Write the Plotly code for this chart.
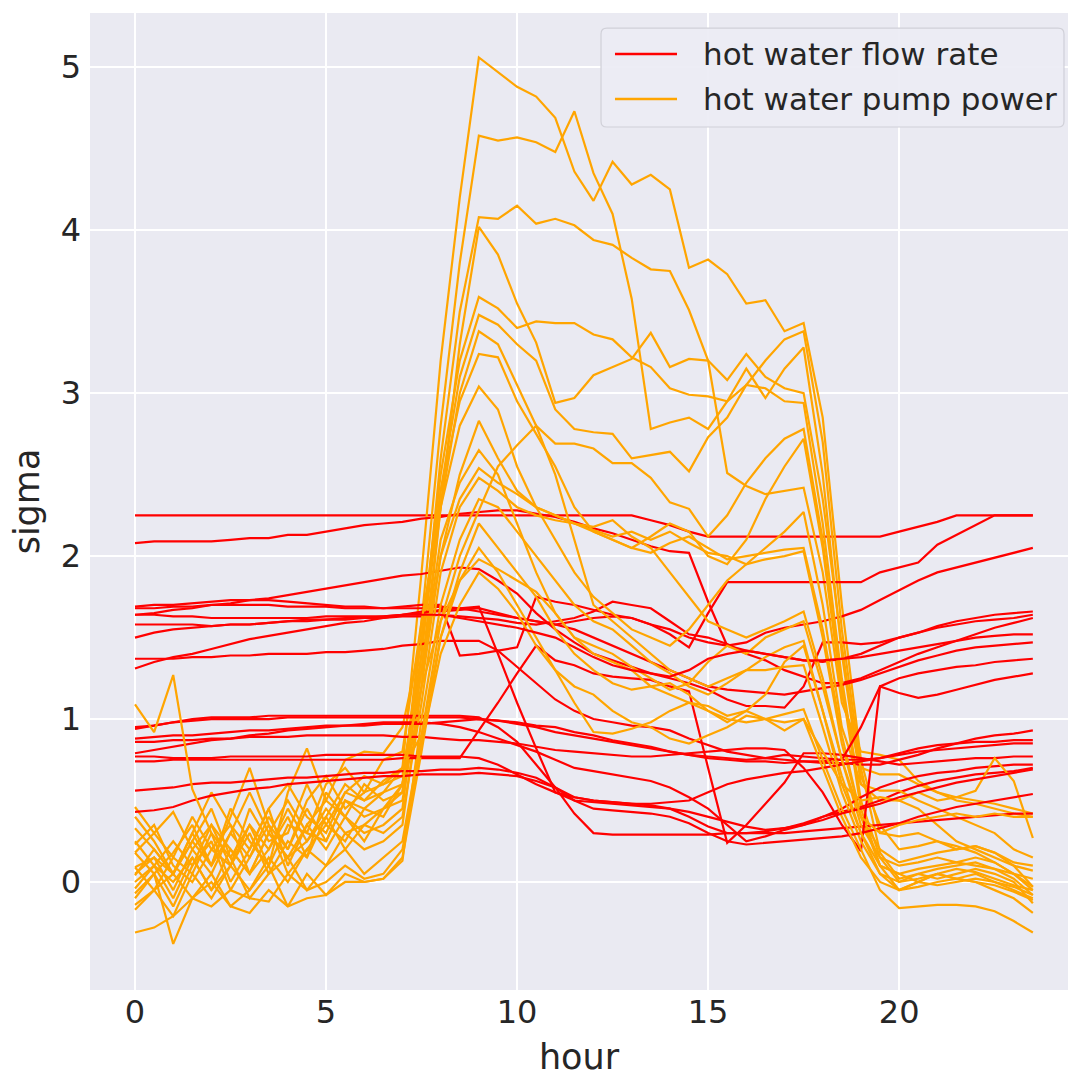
import plotly.graph_objects as go

# half-hourly time axis
hours = [h / 2 for h in range(48)]

# hot water flow rate (sigma), one list per day
flow_rate = [
    [2.25,2.25,2.25,2.25,2.25,2.25,2.25,2.25,2.25,2.25,2.25,2.25,
     2.25,2.25,2.25,2.25,2.25,2.25,2.25,2.25,2.25,2.25,2.25,2.25,
     2.25,2.25,2.25,2.22,2.19,2.15,2.12,2.12,2.12,2.12,2.12,2.12,
     2.12,2.12,2.12,2.12,2.15,2.18,2.21,2.25,2.25,2.25,2.25,2.25],
    [2.08,2.09,2.09,2.09,2.09,2.10,2.11,2.11,2.13,2.13,2.15,2.17,
     2.19,2.20,2.21,2.23,2.24,2.26,2.27,2.28,2.28,2.26,2.24,2.21,
     2.17,2.14,2.10,2.06,2.03,2.02,1.72,1.45,1.47,1.53,1.56,1.58,
     1.60,1.63,1.67,1.73,1.79,1.85,1.90,1.93,1.96,1.99,2.02,2.05],
    [1.64,1.65,1.67,1.68,1.70,1.71,1.73,1.74,1.76,1.78,1.80,1.82,
     1.84,1.86,1.88,1.89,1.91,1.93,1.92,1.85,1.77,1.65,1.55,1.47,
     1.40,1.36,1.32,1.28,1.25,1.22,1.18,1.12,1.08,1.08,1.07,1.20,
     1.47,1.47,1.46,1.47,1.50,1.53,1.57,1.60,1.62,1.64,1.65,1.66],
    [1.68,1.68,1.69,1.69,1.70,1.70,1.70,1.70,1.69,1.69,1.69,1.68,
     1.68,1.68,1.69,1.70,1.70,1.39,1.40,1.42,1.44,1.75,1.72,1.70,
     1.67,1.64,1.62,1.58,1.55,1.50,1.47,1.45,1.42,1.40,1.38,1.36,
     1.35,1.37,1.40,1.45,1.50,1.53,1.56,1.58,1.60,1.61,1.62,1.64],
    [1.69,1.70,1.70,1.71,1.72,1.73,1.73,1.73,1.72,1.71,1.70,1.69,
     1.69,1.68,1.68,1.68,1.69,1.68,1.66,1.64,1.62,1.60,1.58,1.60,
     1.62,1.63,1.62,1.58,1.52,1.44,1.65,1.84,1.84,1.84,1.84,1.84,
     1.84,1.84,1.84,1.90,1.93,1.96,2.07,2.13,2.19,2.25,2.25,2.25],
    [1.58,1.58,1.58,1.58,1.57,1.58,1.58,1.59,1.60,1.60,1.61,1.61,
     1.62,1.62,1.63,1.63,1.64,1.63,1.62,1.61,1.59,1.58,1.60,1.62,
     1.66,1.72,1.70,1.68,1.60,1.52,1.50,1.46,1.40,1.36,1.30,1.26,
     1.22,1.22,1.25,1.30,1.35,1.40,1.44,1.48,1.52,1.56,1.59,1.62],
    [1.50,1.53,1.55,1.56,1.57,1.58,1.58,1.59,1.60,1.61,1.61,1.62,
     1.62,1.63,1.64,1.66,1.66,1.67,1.68,1.65,1.62,1.60,1.58,1.55,
     1.50,1.45,1.40,1.35,1.30,1.25,1.20,1.18,1.17,1.16,1.15,1.17,
     1.19,1.21,1.24,1.28,1.32,1.36,1.39,1.42,1.44,1.45,1.46,1.47],
    [1.37,1.37,1.37,1.38,1.38,1.39,1.39,1.40,1.40,1.40,1.41,1.41,
     1.42,1.43,1.45,1.46,1.48,1.48,1.48,1.42,1.32,1.22,1.12,1.05,
     1.00,0.98,0.96,0.95,0.93,0.88,0.84,0.80,0.78,0.76,0.75,0.74,
     0.73,0.73,0.72,0.72,0.75,0.78,0.82,0.85,0.88,0.90,0.91,0.93],
    [1.31,1.35,1.38,1.40,1.43,1.46,1.49,1.51,1.53,1.55,1.57,1.59,
     1.60,1.62,1.64,1.65,1.67,1.68,1.69,1.40,1.10,0.82,0.55,0.50,
     0.49,0.48,0.47,0.46,0.45,0.43,0.40,0.37,0.34,0.32,0.33,0.36,
     0.40,0.43,0.46,0.50,0.55,0.59,0.62,0.64,0.66,0.67,0.68,0.70],
    [0.95,0.96,0.98,0.99,1.00,1.00,1.00,1.00,1.01,1.01,1.01,1.01,
     1.01,1.01,1.01,1.01,1.01,1.01,1.00,0.99,0.97,0.95,0.92,0.90,
     0.88,0.86,0.84,0.82,0.80,0.78,0.76,0.75,0.74,0.74,0.73,0.74,
     0.74,0.75,0.75,0.76,0.79,0.82,0.84,0.85,0.86,0.86,0.87,0.87],
    [0.94,0.96,0.98,1.00,1.01,1.01,1.01,1.02,1.02,1.02,1.02,1.02,
     1.02,1.02,1.02,1.02,1.02,1.02,1.01,0.95,0.86,0.72,0.58,0.42,
     0.30,0.29,0.29,0.29,0.29,0.29,0.29,0.30,0.30,0.30,0.30,0.31,
     0.32,0.33,0.34,0.35,0.36,0.37,0.38,0.39,0.40,0.41,0.42,0.42],
    [0.88,0.89,0.90,0.90,0.91,0.92,0.93,0.93,0.94,0.95,0.96,0.96,
     0.97,0.98,0.98,0.98,0.97,0.95,0.92,0.88,0.84,0.80,0.75,0.70,
     0.68,0.66,0.64,0.62,0.58,0.52,0.45,0.35,0.25,0.28,0.32,0.35,
     0.40,0.45,0.52,0.58,0.62,0.65,0.67,0.68,0.70,0.71,0.72,0.72],
    [0.86,0.86,0.87,0.87,0.88,0.88,0.89,0.89,0.89,0.90,0.90,0.90,
     0.90,0.90,0.89,0.89,0.88,0.87,0.87,0.86,0.85,0.83,0.81,0.80,
     0.79,0.78,0.77,0.77,0.78,0.79,0.80,0.81,0.82,0.82,0.81,0.70,
     0.55,0.35,0.19,1.20,1.16,1.13,1.15,1.18,1.21,1.24,1.26,1.28],
    [0.74,0.74,0.75,0.75,0.75,0.75,0.75,0.75,0.75,0.75,0.75,0.75,
     0.75,0.75,0.76,0.76,0.76,0.76,0.93,1.10,1.28,1.45,1.36,1.33,
     1.28,1.26,1.25,1.24,1.20,1.17,0.70,0.24,0.35,0.48,0.61,0.79,
     0.79,0.78,0.76,0.74,0.72,0.73,0.74,0.75,0.76,0.76,0.77,0.77],
    [0.79,0.81,0.83,0.85,0.87,0.88,0.90,0.91,0.93,0.94,0.95,0.96,
     0.96,0.97,0.97,0.97,0.98,0.99,1.00,0.99,0.98,0.96,0.95,0.92,
     0.90,0.87,0.85,0.83,0.80,0.78,0.77,0.76,0.75,0.76,0.78,0.77,
     0.76,0.75,0.95,1.20,1.25,1.28,1.30,1.32,1.33,1.35,1.36,1.37],
    [0.77,0.77,0.76,0.76,0.76,0.77,0.77,0.77,0.77,0.77,0.78,0.78,
     0.78,0.78,0.78,0.77,0.77,0.77,0.76,0.72,0.66,0.60,0.55,0.52,
     0.50,0.49,0.48,0.48,0.49,0.50,0.55,0.60,0.63,0.65,0.67,0.68,
     0.70,0.72,0.74,0.76,0.78,0.80,0.81,0.82,0.83,0.84,0.85,0.85],
    [0.56,0.57,0.58,0.60,0.61,0.61,0.62,0.63,0.64,0.64,0.65,0.66,
     0.67,0.67,0.68,0.68,0.69,0.69,0.70,0.69,0.67,0.64,0.58,0.50,
     0.45,0.44,0.43,0.42,0.40,0.36,0.30,0.25,0.23,0.24,0.25,0.26,
     0.27,0.28,0.30,0.33,0.36,0.40,0.43,0.46,0.48,0.50,0.52,0.54],
    [0.43,0.44,0.46,0.50,0.53,0.55,0.57,0.58,0.60,0.61,0.62,0.63,
     0.64,0.65,0.65,0.66,0.66,0.66,0.67,0.66,0.65,0.62,0.58,0.52,
     0.50,0.49,0.48,0.47,0.45,0.40,0.34,0.30,0.30,0.31,0.33,0.35,
     0.38,0.42,0.45,0.48,0.52,0.55,0.58,0.61,0.63,0.65,0.67,0.69],
    [1.64,1.64,1.63,1.63,1.62,1.62,1.62,1.62,1.62,1.62,1.63,1.63,
     1.63,1.63,1.64,1.64,1.64,1.62,1.60,1.58,1.56,1.53,1.50,1.44,
     1.38,1.33,1.30,1.28,1.26,1.30,1.37,1.40,1.42,1.40,1.38,1.36,
     1.36,1.37,1.38,1.40,1.42,1.44,1.46,1.48,1.50,1.51,1.52,1.52],
]

# hot water pump power (sigma), one list per day
pump_power = [
    [0.05,0.15,-0.05,0.20,0.35,0.10,0.45,0.25,0.30,0.60,0.35,0.55,
     0.50,0.62,0.70,1.90,3.20,4.20,5.06,4.97,4.88,4.82,4.69,4.36,
     4.18,4.42,4.28,4.34,4.25,3.77,3.82,3.73,3.55,3.57,3.38,3.43,
     2.85,1.70,0.75,0.30,0.28,0.30,0.25,0.22,0.18,0.12,0.05,-0.05],
    [0.46,0.30,0.43,0.20,0.05,0.30,0.15,0.40,0.20,0.45,0.25,0.50,
     0.40,0.45,0.55,1.60,2.80,3.80,4.58,4.55,4.57,4.54,4.48,4.73,
     4.35,4.10,3.58,2.78,2.82,2.85,2.78,2.95,3.05,3.20,3.33,3.38,
     2.70,1.55,0.70,0.18,0.02,0.05,0.08,0.10,0.12,0.08,0.02,-0.08],
    [0.18,0.05,0.18,0.35,0.10,0.40,0.70,0.35,0.20,0.50,0.65,0.45,
     0.55,0.60,0.65,1.40,2.60,3.50,4.08,4.07,4.15,4.04,4.07,4.03,
     3.94,3.91,3.83,3.76,3.75,3.51,3.20,2.51,2.43,2.38,2.40,2.42,
     1.90,1.10,0.80,0.78,0.75,0.62,0.55,0.50,0.48,0.45,0.42,0.40],
    [-0.04,0.10,-0.10,0.15,-0.05,0.20,0.05,0.30,0.15,0.25,0.45,0.30,
     0.35,0.45,0.50,1.20,2.30,3.30,4.02,3.85,3.55,3.31,2.94,2.97,
     3.11,3.16,3.21,3.37,3.16,3.21,3.20,3.08,3.24,3.10,3.03,3.00,
     2.35,1.45,0.65,0.35,0.20,0.22,0.25,0.20,0.22,0.18,0.10,-0.03],
    [0.33,0.20,0.05,0.25,0.45,0.15,0.35,0.10,0.55,0.82,0.50,0.75,
     0.80,0.79,0.95,1.50,2.50,3.20,3.59,3.52,3.40,3.44,3.43,3.43,
     3.36,3.33,3.22,3.16,3.03,2.99,2.98,2.95,3.15,2.97,3.15,3.28,
     2.50,1.40,0.60,0.50,0.50,0.45,0.35,0.25,0.20,0.15,0.10,0.07],
    [0.09,-0.05,0.15,0.05,0.30,0.00,0.20,0.45,0.10,0.35,0.20,0.40,
     0.30,0.35,0.45,1.40,2.40,3.10,3.48,3.42,3.30,3.20,2.90,2.78,
     2.76,2.75,2.60,2.62,2.64,2.52,2.73,2.85,3.05,3.03,2.95,2.94,
     2.20,1.25,0.50,0.15,0.00,0.05,0.02,0.05,0.08,0.05,0.00,-0.13],
    [0.23,0.35,0.10,0.00,0.20,0.35,0.05,0.20,0.40,0.15,0.55,0.40,
     0.60,0.50,0.55,1.30,2.30,3.00,3.38,3.30,3.05,2.80,2.69,2.69,
     2.66,2.57,2.57,2.48,2.33,2.29,2.12,2.25,2.45,2.60,2.72,2.78,
     2.10,1.20,0.45,0.10,-0.05,0.00,0.05,0.02,0.00,-0.05,-0.10,-0.19],
    [-0.07,0.05,-0.15,0.10,0.25,-0.05,0.15,0.35,0.05,0.20,0.35,0.25,
     0.45,0.40,0.60,1.50,2.40,2.95,3.24,3.22,2.95,2.75,2.55,2.30,
     2.15,2.10,2.05,2.12,2.20,2.15,2.00,1.95,2.10,2.35,2.55,2.72,
     2.05,1.15,0.70,0.66,0.66,0.60,0.55,0.52,0.50,0.48,0.45,0.42],
    [0.04,0.20,0.05,0.30,0.10,0.45,0.25,0.10,0.35,0.30,0.60,0.70,
     0.55,0.75,0.80,1.60,2.30,2.80,3.04,2.90,2.55,2.30,2.10,1.90,
     1.75,1.65,1.55,1.50,1.45,1.55,1.70,1.85,1.95,2.05,2.15,2.27,
     1.70,0.95,0.60,0.56,0.56,0.50,0.45,0.40,0.35,0.30,0.20,0.15],
    [-0.14,-0.05,-0.21,0.05,-0.10,0.10,-0.05,0.15,0.00,0.20,0.10,0.30,
     0.20,0.25,0.35,1.20,2.00,2.50,2.83,2.60,2.40,2.30,2.25,2.20,
     2.15,2.10,2.05,2.02,2.08,2.12,2.05,1.98,2.00,2.02,2.04,2.05,
     1.55,0.90,0.40,0.10,0.05,0.00,-0.02,0.00,0.02,0.00,-0.03,-0.08],
    [0.00,0.10,0.25,0.10,0.35,0.20,0.05,0.30,0.50,0.30,0.25,0.50,
     0.45,0.55,0.60,1.30,2.00,2.35,2.54,2.45,2.38,2.30,2.25,2.20,
     2.18,2.22,2.12,2.05,1.90,1.75,1.60,1.55,1.50,1.55,1.60,1.66,
     1.25,0.75,0.35,0.15,0.10,0.12,0.15,0.12,0.10,0.08,0.05,0.02],
    [0.25,0.10,0.00,0.15,-0.05,0.10,0.30,0.05,0.25,0.15,0.40,0.20,
     0.35,0.30,0.40,1.10,1.90,2.30,2.48,2.40,2.30,2.25,2.22,2.20,
     2.16,2.12,2.15,2.10,2.15,2.08,2.02,2.00,1.95,1.98,2.00,2.03,
     1.50,0.85,0.40,0.20,0.12,0.15,0.18,0.20,0.22,0.18,0.12,0.10],
    [-0.17,-0.05,0.05,-0.10,0.05,-0.15,-0.05,0.10,-0.15,0.05,-0.08,0.05,
     0.00,0.02,0.13,1.00,1.70,2.10,2.35,2.30,2.15,2.00,1.85,1.70,
     1.60,1.55,1.45,1.35,1.28,1.20,1.15,1.22,1.30,1.38,1.44,1.48,
     1.05,0.65,0.30,0.05,-0.05,-0.03,0.00,0.02,0.00,-0.02,-0.06,-0.11],
    [0.18,0.30,0.15,0.40,0.20,0.10,0.35,0.20,0.45,0.25,0.40,0.60,
     0.50,0.55,0.70,0.90,1.60,2.00,2.28,2.55,2.68,2.80,2.50,2.10,
     1.70,1.60,1.50,1.40,1.30,1.25,1.20,1.25,1.30,1.30,1.32,1.33,
     0.95,0.55,0.25,0.05,0.00,0.02,0.05,0.08,0.06,0.02,-0.02,-0.05],
    [-0.10,0.05,-0.38,-0.10,0.00,-0.15,-0.19,-0.05,-0.15,-0.10,-0.08,0.00,
     0.00,0.02,0.15,0.80,1.50,1.85,2.05,1.90,1.70,1.50,1.30,1.10,
     0.92,0.91,0.94,0.98,1.05,1.10,1.08,1.02,1.05,1.00,1.03,1.06,
     0.75,0.45,0.20,-0.05,-0.16,-0.15,-0.14,-0.14,-0.15,-0.18,-0.24,-0.31],
    [0.40,0.25,0.05,0.30,0.55,0.35,0.20,0.45,0.60,0.40,0.30,0.55,
     0.65,0.60,0.70,1.20,1.60,1.85,1.98,1.92,1.85,1.78,1.65,1.50,
     1.40,1.35,1.30,1.20,1.15,1.10,1.05,1.00,0.98,1.00,0.98,1.00,
     0.80,0.60,0.50,0.52,0.50,0.55,0.50,0.52,0.56,0.76,0.62,0.27],
    [-0.31,-0.28,-0.21,-0.10,-0.15,-0.05,-0.10,-0.12,0.05,-0.05,0.00,0.10,
     0.02,0.05,0.20,0.85,1.40,1.70,1.90,1.80,1.65,1.45,1.30,1.20,
     1.15,1.05,0.98,0.95,0.88,0.85,0.90,0.95,1.02,1.00,0.93,1.00,
     0.70,0.40,0.15,0.00,-0.05,0.00,0.05,0.02,0.05,0.00,-0.05,-0.10],
    [0.09,0.15,0.05,0.25,0.10,0.30,0.55,0.30,0.15,0.35,0.50,0.40,
     0.25,0.45,0.60,1.30,2.10,2.45,2.65,2.50,2.20,1.90,1.65,1.50,
     1.45,1.40,1.32,1.25,1.18,1.22,1.35,1.45,1.40,1.50,1.55,1.60,
     1.20,0.75,0.40,0.30,0.35,0.38,0.40,0.42,0.40,0.42,0.40,0.40],
    [1.09,0.92,1.27,0.57,0.30,0.15,-0.10,0.05,0.15,-0.05,0.10,0.20,
     0.05,0.15,0.25,0.90,1.50,1.90,2.20,2.05,1.90,1.75,1.55,1.40,
     1.30,1.22,1.18,1.20,1.22,1.15,1.05,0.98,1.05,1.15,1.35,1.45,
     1.05,0.60,0.30,0.10,0.05,0.08,0.10,0.12,0.15,0.12,0.05,-0.03],
]

FLOW_COLOR = "#ff0000"
PUMP_COLOR = "#ffa500"
FONT = "DejaVu Sans"
TEXT_COLOR = "#262626"

fig = go.Figure()


def add_series(values, color, name):
    fig.add_trace(go.Scatter(
        x=hours, y=values, mode="lines",
        line=dict(color=color, width=2.2),
        name=name, showlegend=False, hoverinfo="skip",
    ))


n = max(len(flow_rate), len(pump_power))
for i in range(n):
    if i < len(flow_rate):
        add_series(flow_rate[i], FLOW_COLOR, "hot water flow rate")
    if i < len(pump_power):
        add_series(pump_power[i], PUMP_COLOR, "hot water pump power")

# legend box drawn in paper coordinates (rounded frame, line samples, labels)
bx0, bx1, by0, by1 = 0.5225, 0.9959, 0.8833, 0.9846
rx, ry = 0.006, 0.006
frame = (
    f"M {bx0 + rx},{by0} L {bx1 - rx},{by0} Q {bx1},{by0} {bx1},{by0 + ry} "
    f"L {bx1},{by1 - ry} Q {bx1},{by1} {bx1 - rx},{by1} "
    f"L {bx0 + rx},{by1} Q {bx0},{by1} {bx0},{by1 - ry} "
    f"L {bx0},{by0 + ry} Q {bx0},{by0} {bx0 + rx},{by0} Z"
)
shapes = [dict(type="path", path=frame, xref="paper", yref="paper",
               fillcolor="rgba(236,236,244,0.92)",
               line=dict(color="#d0d0d8", width=1.2), layer="above")]
annotations = []
legend_rows = [("hot water flow rate", FLOW_COLOR, 0.958),
               ("hot water pump power", PUMP_COLOR, 0.912)]
for label, color, yy in legend_rows:
    shapes.append(dict(type="line", xref="paper", yref="paper",
                       x0=0.5368, x1=0.6002, y0=yy, y1=yy,
                       line=dict(color=color, width=2.4), layer="above"))
    annotations.append(dict(text=label, xref="paper", yref="paper",
                            x=0.6247, y=yy, xanchor="left", yanchor="middle",
                            showarrow=False,
                            font=dict(size=31, family=FONT, color=TEXT_COLOR)))

fig.update_layout(
    width=1068, height=1077,
    margin=dict(l=90, r=0, t=13, b=87),
    paper_bgcolor="white",
    plot_bgcolor="#eaeaf2",
    font=dict(family=FONT, color=TEXT_COLOR),
    showlegend=False,
    shapes=shapes,
    annotations=annotations,
    xaxis=dict(
        range=[-1.178, 24.42],
        tickvals=[0, 5, 10, 15, 20],
        showgrid=True, gridcolor="white", gridwidth=1.5,
        zeroline=False, showline=False, ticks="",
        tickfont=dict(size=32, family=FONT, color=TEXT_COLOR),
        title=dict(text="hour", font=dict(size=35, family=FONT, color=TEXT_COLOR), standoff=20),
    ),
    yaxis=dict(
        range=[-0.663, 5.333],
        tickvals=[0, 1, 2, 3, 4, 5],
        showgrid=True, gridcolor="white", gridwidth=1.5,
        zeroline=False, showline=False, ticks="",
        ticklabelstandoff=8,
        tickfont=dict(size=32, family=FONT, color=TEXT_COLOR),
        title=dict(text="sigma", font=dict(size=35, family=FONT, color=TEXT_COLOR), standoff=10),
    ),
)

fig.write_html("out.html")
